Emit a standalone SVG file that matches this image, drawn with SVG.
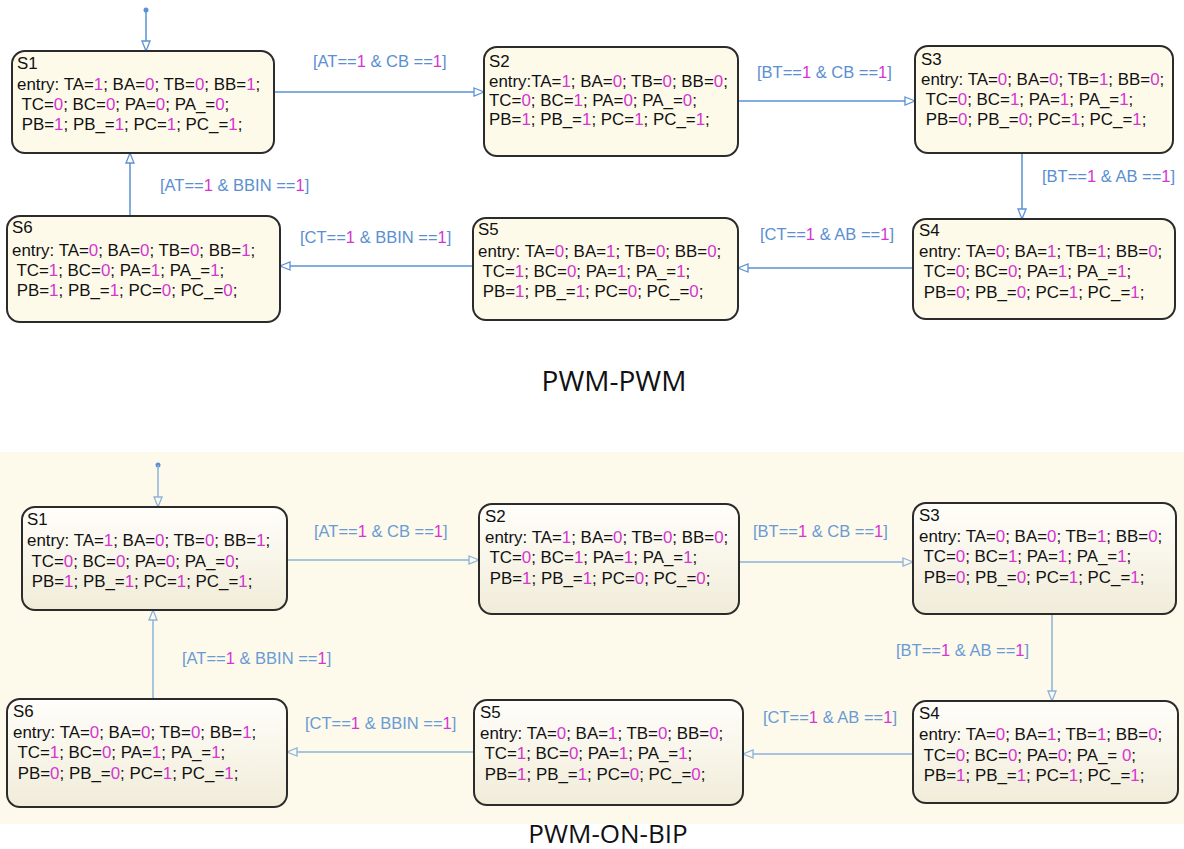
<svg xmlns="http://www.w3.org/2000/svg" width="1184" height="849" viewBox="0 0 1184 849">
<defs>
<style>
.st{fill:#fefaea;stroke:#2b2b2b;stroke-width:2}
.st2{fill:url(#g);stroke:#2b2b2b;stroke-width:2}
.t{font-family:"Liberation Sans",Arial,sans-serif;font-size:16.9px;fill:#111}
.n{fill:#d535d0}
.lb{font-family:"Liberation Sans",Arial,sans-serif;font-size:16.5px;fill:#5b8fd0}
.lb2{font-family:"Liberation Sans",Arial,sans-serif;font-size:16.5px;fill:#6a9bd4}
.c{stroke:#5b92d4;stroke-width:1.5;fill:none;marker-end:url(#a)}
.c2{stroke:#8db2d9;stroke-width:1.5;fill:none;marker-end:url(#a2)}
.ti{font-family:"Open Sans","Noto Sans",sans-serif;fill:#111;text-anchor:middle}
</style>
<linearGradient id="g" x1="0" y1="0" x2="0" y2="1">
<stop offset="0" stop-color="#fffefa"/>
<stop offset="1" stop-color="#f1ecd9"/>
</linearGradient>
<marker id="a" markerUnits="userSpaceOnUse" markerWidth="12" markerHeight="10" refX="10" refY="4" orient="auto" viewBox="-1 -1 12 10">
<path d="M0,0 L10,4 L0,8 z" fill="#fff" stroke="#5b92d4" stroke-width="1.3"/>
</marker>
<marker id="a2" markerUnits="userSpaceOnUse" markerWidth="12" markerHeight="10" refX="10" refY="4" orient="auto" viewBox="-1 -1 12 10">
<path d="M0,0 L10,4 L0,8 z" fill="#fdfaeb" stroke="#8db2d9" stroke-width="1.3"/>
</marker>
</defs>
<rect x="0" y="0" width="1184" height="849" fill="#fff"/>
<rect x="0" y="452" width="1184" height="372" fill="#fdfaeb"/>

<g id="connectors-top">
<circle cx="146" cy="10" r="2.5" fill="#5b92d4"/>
<line class="c" x1="146" y1="10" x2="146" y2="51"/>
<line class="c" x1="274" y1="92" x2="484" y2="92"/>
<line class="c" x1="738" y1="101" x2="915" y2="101"/>
<line class="c" x1="1022" y1="153" x2="1022" y2="219"/>
<line class="c" x1="913" y1="268" x2="738" y2="268"/>
<line class="c" x1="473" y1="266" x2="280" y2="266"/>
<line class="c" x1="130" y1="216" x2="130" y2="153"/>
<text class="lb" x="313" y="67">[AT==<tspan class="n">1</tspan> &amp; CB ==<tspan class="n">1</tspan>]</text>
<text class="lb" x="757" y="78">[BT==<tspan class="n">1</tspan> &amp; CB ==<tspan class="n">1</tspan>]</text>
<text class="lb" x="1042" y="182">[BT==<tspan class="n">1</tspan> &amp; AB ==<tspan class="n">1</tspan>]</text>
<text class="lb" x="760" y="240">[CT==<tspan class="n">1</tspan> &amp; AB ==<tspan class="n">1</tspan>]</text>
<text class="lb" x="300" y="243">[CT==<tspan class="n">1</tspan> &amp; BBIN ==<tspan class="n">1</tspan>]</text>
<text class="lb" x="160" y="191">[AT==<tspan class="n">1</tspan> &amp; BBIN ==<tspan class="n">1</tspan>]</text>
</g>

<g id="S1">
<rect class="st" x="12" y="51" width="262" height="102" rx="13"/>
<text class="t" xml:space="preserve" x="17" y="69">S1</text>
<text class="t" xml:space="preserve" x="17" y="90">entry: TA=<tspan class="n">1</tspan>; BA=<tspan class="n">0</tspan>; TB=<tspan class="n">0</tspan>; BB=<tspan class="n">1</tspan>;</text>
<text class="t" xml:space="preserve" x="17" y="110"> TC=<tspan class="n">0</tspan>; BC=<tspan class="n">0</tspan>; PA=<tspan class="n">0</tspan>; PA_=<tspan class="n">0</tspan>;</text>
<text class="t" xml:space="preserve" x="17" y="130"> PB=<tspan class="n">1</tspan>; PB_=<tspan class="n">1</tspan>; PC=<tspan class="n">1</tspan>; PC_=<tspan class="n">1</tspan>;</text>
</g>
<g id="S2">
<rect class="st" x="484" y="47" width="254" height="109" rx="13"/>
<text class="t" xml:space="preserve" x="489" y="67">S2</text>
<text class="t" xml:space="preserve" x="489" y="87">entry:TA=<tspan class="n">1</tspan>; BA=<tspan class="n">0</tspan>; TB=<tspan class="n">0</tspan>; BB=<tspan class="n">0</tspan>;</text>
<text class="t" xml:space="preserve" x="489" y="106">TC=<tspan class="n">0</tspan>; BC=<tspan class="n">1</tspan>; PA=<tspan class="n">0</tspan>; PA_=<tspan class="n">0</tspan>;</text>
<text class="t" xml:space="preserve" x="489" y="125">PB=<tspan class="n">1</tspan>; PB_=<tspan class="n">1</tspan>; PC=<tspan class="n">1</tspan>; PC_=<tspan class="n">1</tspan>;</text>
</g>
<g id="S3">
<rect class="st" x="915" y="46" width="258" height="107" rx="13"/>
<text class="t" xml:space="preserve" x="921" y="65">S3</text>
<text class="t" xml:space="preserve" x="921" y="85">entry: TA=<tspan class="n">0</tspan>; BA=<tspan class="n">0</tspan>; TB=<tspan class="n">1</tspan>; BB=<tspan class="n">0</tspan>;</text>
<text class="t" xml:space="preserve" x="921" y="105"> TC=<tspan class="n">0</tspan>; BC=<tspan class="n">1</tspan>; PA=<tspan class="n">1</tspan>; PA_=<tspan class="n">1</tspan>;</text>
<text class="t" xml:space="preserve" x="921" y="125"> PB=<tspan class="n">0</tspan>; PB_=<tspan class="n">0</tspan>; PC=<tspan class="n">1</tspan>; PC_=<tspan class="n">1</tspan>;</text>
</g>
<g id="S4">
<rect class="st" x="913" y="219" width="262" height="100" rx="13"/>
<text class="t" xml:space="preserve" x="919" y="236">S4</text>
<text class="t" xml:space="preserve" x="919" y="257">entry: TA=<tspan class="n">0</tspan>; BA=<tspan class="n">1</tspan>; TB=<tspan class="n">1</tspan>; BB=<tspan class="n">0</tspan>;</text>
<text class="t" xml:space="preserve" x="919" y="277"> TC=<tspan class="n">0</tspan>; BC=<tspan class="n">0</tspan>; PA=<tspan class="n">1</tspan>; PA_=<tspan class="n">1</tspan>;</text>
<text class="t" xml:space="preserve" x="919" y="298"> PB=<tspan class="n">0</tspan>; PB_=<tspan class="n">0</tspan>; PC=<tspan class="n">1</tspan>; PC_=<tspan class="n">1</tspan>;</text>
</g>
<g id="S5">
<rect class="st" x="473" y="218" width="265" height="102" rx="13"/>
<text class="t" xml:space="preserve" x="478" y="235">S5</text>
<text class="t" xml:space="preserve" x="478" y="257">entry: TA=<tspan class="n">0</tspan>; BA=<tspan class="n">1</tspan>; TB=<tspan class="n">0</tspan>; BB=<tspan class="n">0</tspan>;</text>
<text class="t" xml:space="preserve" x="478" y="277"> TC=<tspan class="n">1</tspan>; BC=<tspan class="n">0</tspan>; PA=<tspan class="n">1</tspan>; PA_=<tspan class="n">1</tspan>;</text>
<text class="t" xml:space="preserve" x="478" y="297"> PB=<tspan class="n">1</tspan>; PB_=<tspan class="n">1</tspan>; PC=<tspan class="n">0</tspan>; PC_=<tspan class="n">0</tspan>;</text>
</g>
<g id="S6">
<rect class="st" x="7" y="216" width="273" height="106" rx="13"/>
<text class="t" xml:space="preserve" x="12" y="233">S6</text>
<text class="t" xml:space="preserve" x="12" y="256">entry: TA=<tspan class="n">0</tspan>; BA=<tspan class="n">0</tspan>; TB=<tspan class="n">0</tspan>; BB=<tspan class="n">1</tspan>;</text>
<text class="t" xml:space="preserve" x="12" y="276"> TC=<tspan class="n">1</tspan>; BC=<tspan class="n">0</tspan>; PA=<tspan class="n">1</tspan>; PA_=<tspan class="n">1</tspan>;</text>
<text class="t" xml:space="preserve" x="12" y="296"> PB=<tspan class="n">1</tspan>; PB_=<tspan class="n">1</tspan>; PC=<tspan class="n">0</tspan>; PC_=<tspan class="n">0</tspan>;</text>
</g>
<text class="ti" x="614" y="391" font-size="28">PWM-PWM</text>

<g id="connectors-bottom">
<circle cx="158" cy="465" r="2.5" fill="#5b8fd0"/>
<line class="c2" x1="158" y1="465" x2="158" y2="507"/>
<line class="c2" x1="287" y1="560" x2="479" y2="560"/>
<line class="c2" x1="739" y1="562" x2="913" y2="562"/>
<line class="c2" x1="1052" y1="614" x2="1052" y2="701"/>
<line class="c2" x1="913" y1="754" x2="743" y2="754"/>
<line class="c2" x1="474" y1="752" x2="287" y2="752"/>
<line class="c2" x1="153" y1="699" x2="153" y2="610"/>
<text class="lb2" x="314" y="537">[AT==<tspan class="n">1</tspan> &amp; CB ==<tspan class="n">1</tspan>]</text>
<text class="lb2" x="753" y="537">[BT==<tspan class="n">1</tspan> &amp; CB ==<tspan class="n">1</tspan>]</text>
<text class="lb2" x="896" y="656">[BT==<tspan class="n">1</tspan> &amp; AB ==<tspan class="n">1</tspan>]</text>
<text class="lb2" x="763" y="723">[CT==<tspan class="n">1</tspan> &amp; AB ==<tspan class="n">1</tspan>]</text>
<text class="lb2" x="305" y="729">[CT==<tspan class="n">1</tspan> &amp; BBIN ==<tspan class="n">1</tspan>]</text>
<text class="lb2" x="182" y="664">[AT==<tspan class="n">1</tspan> &amp; BBIN ==<tspan class="n">1</tspan>]</text>
</g>

<g id="B-S1">
<rect class="st2" x="22" y="507" width="265" height="103" rx="13"/>
<text class="t" xml:space="preserve" x="27" y="525">S1</text>
<text class="t" xml:space="preserve" x="27" y="546">entry: TA=<tspan class="n">1</tspan>; BA=<tspan class="n">0</tspan>; TB=<tspan class="n">0</tspan>; BB=<tspan class="n">1</tspan>;</text>
<text class="t" xml:space="preserve" x="27" y="567"> TC=<tspan class="n">0</tspan>; BC=<tspan class="n">0</tspan>; PA=<tspan class="n">0</tspan>; PA_=<tspan class="n">0</tspan>;</text>
<text class="t" xml:space="preserve" x="27" y="587"> PB=<tspan class="n">1</tspan>; PB_=<tspan class="n">1</tspan>; PC=<tspan class="n">1</tspan>; PC_=<tspan class="n">1</tspan>;</text>
</g>
<g id="B-S2">
<rect class="st2" x="479" y="504" width="260" height="110" rx="13"/>
<text class="t" xml:space="preserve" x="485" y="522">S2</text>
<text class="t" xml:space="preserve" x="485" y="543">entry: TA=<tspan class="n">1</tspan>; BA=<tspan class="n">0</tspan>; TB=<tspan class="n">0</tspan>; BB=<tspan class="n">0</tspan>;</text>
<text class="t" xml:space="preserve" x="485" y="563"> TC=<tspan class="n">0</tspan>; BC=<tspan class="n">1</tspan>; PA=<tspan class="n">1</tspan>; PA_=<tspan class="n">1</tspan>;</text>
<text class="t" xml:space="preserve" x="485" y="584"> PB=<tspan class="n">1</tspan>; PB_=<tspan class="n">1</tspan>; PC=<tspan class="n">0</tspan>; PC_=<tspan class="n">0</tspan>;</text>
</g>
<g id="B-S3">
<rect class="st2" x="913" y="503" width="263" height="111" rx="13"/>
<text class="t" xml:space="preserve" x="919" y="521">S3</text>
<text class="t" xml:space="preserve" x="919" y="542">entry: TA=<tspan class="n">0</tspan>; BA=<tspan class="n">0</tspan>; TB=<tspan class="n">1</tspan>; BB=<tspan class="n">0</tspan>;</text>
<text class="t" xml:space="preserve" x="919" y="562"> TC=<tspan class="n">0</tspan>; BC=<tspan class="n">1</tspan>; PA=<tspan class="n">1</tspan>; PA_=<tspan class="n">1</tspan>;</text>
<text class="t" xml:space="preserve" x="919" y="583"> PB=<tspan class="n">0</tspan>; PB_=<tspan class="n">0</tspan>; PC=<tspan class="n">1</tspan>; PC_=<tspan class="n">1</tspan>;</text>
</g>
<g id="B-S4">
<rect class="st2" x="913" y="701" width="265" height="102" rx="13"/>
<text class="t" xml:space="preserve" x="919" y="719">S4</text>
<text class="t" xml:space="preserve" x="919" y="740">entry: TA=<tspan class="n">0</tspan>; BA=<tspan class="n">1</tspan>; TB=<tspan class="n">1</tspan>; BB=<tspan class="n">0</tspan>;</text>
<text class="t" xml:space="preserve" x="919" y="761"> TC=<tspan class="n">0</tspan>; BC=<tspan class="n">0</tspan>; PA=<tspan class="n">0</tspan>; PA_= <tspan class="n">0</tspan>;</text>
<text class="t" xml:space="preserve" x="919" y="781"> PB=<tspan class="n">1</tspan>; PB_=<tspan class="n">1</tspan>; PC=<tspan class="n">1</tspan>; PC_=<tspan class="n">1</tspan>;</text>
</g>
<g id="B-S5">
<rect class="st2" x="474" y="700" width="269" height="105" rx="13"/>
<text class="t" xml:space="preserve" x="480" y="718">S5</text>
<text class="t" xml:space="preserve" x="480" y="739">entry: TA=<tspan class="n">0</tspan>; BA=<tspan class="n">1</tspan>; TB=<tspan class="n">0</tspan>; BB=<tspan class="n">0</tspan>;</text>
<text class="t" xml:space="preserve" x="480" y="759"> TC=<tspan class="n">1</tspan>; BC=<tspan class="n">0</tspan>; PA=<tspan class="n">1</tspan>; PA_=<tspan class="n">1</tspan>;</text>
<text class="t" xml:space="preserve" x="480" y="780"> PB=<tspan class="n">1</tspan>; PB_=<tspan class="n">1</tspan>; PC=<tspan class="n">0</tspan>; PC_=<tspan class="n">0</tspan>;</text>
</g>
<g id="B-S6">
<rect class="st2" x="7" y="699" width="280" height="108" rx="13"/>
<text class="t" xml:space="preserve" x="13" y="717">S6</text>
<text class="t" xml:space="preserve" x="13" y="738">entry: TA=<tspan class="n">0</tspan>; BA=<tspan class="n">0</tspan>; TB=<tspan class="n">0</tspan>; BB=<tspan class="n">1</tspan>;</text>
<text class="t" xml:space="preserve" x="13" y="758"> TC=<tspan class="n">1</tspan>; BC=<tspan class="n">0</tspan>; PA=<tspan class="n">1</tspan>; PA_=<tspan class="n">1</tspan>;</text>
<text class="t" xml:space="preserve" x="13" y="779"> PB=<tspan class="n">0</tspan>; PB_=<tspan class="n">0</tspan>; PC=<tspan class="n">1</tspan>; PC_=<tspan class="n">1</tspan>;</text>
</g>
<text class="ti" x="608" y="843" font-size="26">PWM-ON-BIP</text>
</svg>
